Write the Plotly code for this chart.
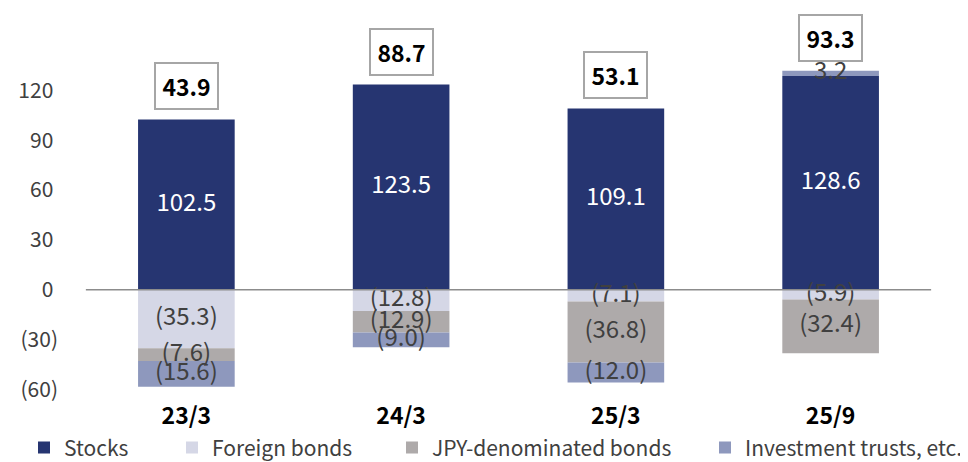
import numpy as np
import plotly.graph_objects as go

# ---------------- data ----------------
categories = ["23/3", "24/3", "25/3", "25/9"]
series_names = ["Stocks", "Foreign bonds", "JPY-denominated bonds", "Investment trusts, etc."]
stocks = [102.5, 123.5, 109.1, 128.6]
foreign_bonds = [-35.3, -12.8, -7.1, -5.9]
jpy_bonds = [-7.6, -12.9, -36.8, -32.4]
investment_trusts = [-15.6, -9.0, -12.0, 3.2]
totals = [43.9, 88.7, 53.1, 93.3]
y_tick_values = [-60, -30, 0, 30, 60, 90, 120]
y_tick_labels = ["(60)", "(30)", "0\u00a0", "30\u00a0", "60\u00a0", "90\u00a0", "120\u00a0"]

# ---------------- style ----------------
FONT = "Noto Sans CJK JP, Noto Sans, sans-serif"
colors = ["#263571", "#d5d7e6", "#aeaaaa", "#8e98bd"]
label_colors = ["#ffffff", "#404040", "#404040", "#404040"]
series_values = [stocks, foreign_bonds, jpy_bonds, investment_trusts]
legend_ids = ["legend", "legend2", "legend3", "legend4"]
legend_px = [16, 164, 384, 962]
legend_anchor = ["left", "left", "left", "right"]
# the page adds an 8px body margin, so the figure is sized to fit the 968x462 window
W, H = 960, 454


def fmt(v):
    return f"({abs(v):.1f})" if v < 0 else f"{v:.1f}"


fig = go.Figure()

pos_base = np.zeros(len(categories))
neg_base = np.zeros(len(categories))
for name, vals, col, lcol, lid in zip(series_names, series_values, colors, label_colors, legend_ids):
    vals = np.array(vals, dtype=float)
    fig.add_trace(go.Bar(
        x=categories, y=vals, name=name, marker=dict(color=col, line=dict(width=0)),
        width=0.45, hoverinfo="skip", legend=lid,
    ))
    base = np.where(vals >= 0, pos_base, neg_base)
    mids = base + vals / 2
    pos_base = pos_base + np.where(vals >= 0, vals, 0)
    neg_base = neg_base + np.where(vals < 0, vals, 0)
    fig.add_trace(go.Scatter(
        x=categories, y=mids, mode="text", text=[fmt(v) for v in vals],
        textfont=dict(family=FONT, size=24, color=lcol), showlegend=False,
        hoverinfo="skip", cliponaxis=False,
    ))

# totals boxes above positive stacks
for cat, top, tot in zip(categories, pos_base, totals):
    fig.add_annotation(
        x=cat, y=top, yanchor="bottom", yshift=9, text=f"<b>{tot:.1f}</b>",
        showarrow=False, font=dict(family=FONT, size=23, color="#000000"),
        bgcolor="#ffffff", bordercolor="#a6a6a6", borderwidth=2, borderpad=1,
        width=59, height=42,
    )

# zero line (slightly inset as in the original)
fig.add_shape(type="line", xref="paper", yref="y", x0=0.008, x1=0.992, y0=0, y1=0,
              line=dict(color="#8c8c8c", width=1.5))

legend_style = dict(
    orientation="h", xref="container", yref="container",
    y=0.031, yanchor="middle",
    font=dict(family=FONT, size=21, color="#404040"),
    itemwidth=30, bgcolor="rgba(0,0,0,0)",
)
legends = {lid: dict(legend_style, x=min(px / W, 1.0), xanchor=anc)
           for lid, px, anc in zip(legend_ids, legend_px, legend_anchor)}

fig.update_layout(
    width=W, height=H,
    margin=dict(l=71, r=30, t=0, b=66, autoexpand=False),
    barmode="relative",
    paper_bgcolor="#ffffff", plot_bgcolor="#ffffff",
    font=dict(family=FONT, color="#404040"),
    showlegend=True,
    xaxis=dict(
        type="category", range=[-0.5, 3.5], showgrid=False, zeroline=False,
        showline=False, ticks="", automargin=False, ticklabelstandoff=4,
        tickfont=dict(family=FONT, size=23, color="#000000"),
        tickprefix="<b>", ticksuffix="</b>",
    ),
    yaxis=dict(
        range=[-64, 169.6], showgrid=False, zeroline=False, showline=False,
        tickmode="array", tickvals=y_tick_values, ticktext=y_tick_labels,
        tickfont=dict(family=FONT, size=21, color="#404040"),
        ticklabelstandoff=20, automargin=False,
    ),
    **legends,
)

fig.write_html("out.html")
